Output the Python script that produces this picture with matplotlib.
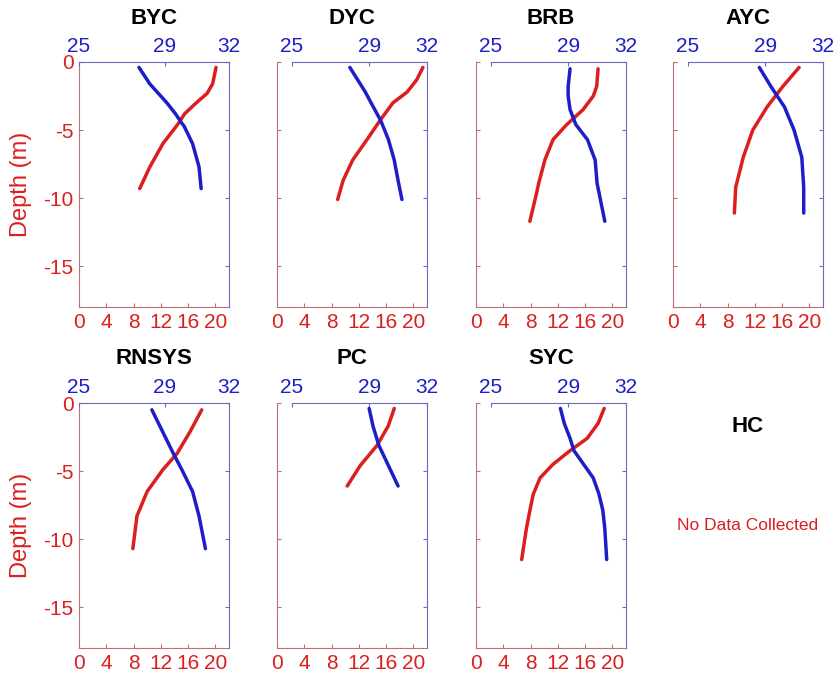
import matplotlib.pyplot as plt

plt.rcParams["font.family"] = ["Liberation Sans", "DejaVu Sans"]
plt.rcParams["axes.unicode_minus"] = False

# temperature (red, bottom axis) and salinity (blue, top axis) profiles
byc_depth = [-0.4, -1.6, -2.3, -3.0, -3.8, -4.5, -4.7, -6.0, -7.7, -9.3]
byc_temp = [20.1, 19.6, 18.8, 17.2, 15.5, 14.6, 14.3, 12.3, 10.4, 8.9]
byc_sal = [27.8, 28.3, 28.7, 29.1, 29.5, 29.8, 29.9, 30.3, 30.6, 30.7]

dyc_depth = [-0.4, -1.3, -2.2, -3.0, -4.3, -5.7, -7.2, -8.7, -10.1]
dyc_temp = [21.4, 20.5, 19.1, 17.0, 15.1, 13.2, 11.1, 9.7, 8.9]
dyc_sal = [28.0, 28.4, 28.8, 29.1, 29.6, 30.0, 30.3, 30.5, 30.7]

brb_depth = [-0.5, -1.8, -2.5, -3.5, -4.6, -5.7, -7.2, -8.9, -9.6, -11.7]
brb_temp = [17.9, 17.7, 17.2, 15.7, 13.3, 11.3, 10.1, 9.2, 8.9, 7.9]
brb_sal = [29.1, 29.0, 29.0, 29.1, 29.4, 30.0, 30.4, 30.5, 30.6, 30.9]

ayc_depth = [-0.4, -1.8, -3.3, -5.0, -7.0, -9.2, -11.1]
ayc_temp = [18.5, 16.1, 13.8, 11.7, 10.3, 9.2, 9.0]
ayc_sal = [28.7, 29.3, 30.0, 30.5, 30.9, 31.0, 31.0]

rnsys_depth = [-0.5, -2.1, -3.7, -4.9, -6.5, -8.3, -10.7]
rnsys_temp = [18.0, 16.3, 14.4, 12.3, 10.0, 8.5, 7.9]
rnsys_sal = [28.4, 28.9, 29.4, 29.8, 30.3, 30.6, 30.9]

pc_depth = [-0.4, -1.7, -3.1, -4.6, -6.1]
pc_temp = [17.2, 16.3, 14.7, 12.2, 10.3]
pc_sal = [29.0, 29.2, 29.5, 30.0, 30.5]

syc_depth = [-0.4, -1.5, -2.6, -3.5, -4.5, -5.5, -6.7, -7.9, -9.2, -11.5]
syc_temp = [18.8, 17.9, 16.3, 13.8, 11.3, 9.4, 8.4, 7.9, 7.4, 6.7]
syc_sal = [28.6, 28.8, 29.1, 29.3, 29.8, 30.3, 30.6, 30.8, 30.9, 31.0]

sites = ["BYC", "DYC", "BRB", "AYC", "RNSYS", "PC", "SYC"]
depths = [byc_depth, dyc_depth, brb_depth, ayc_depth, rnsys_depth, pc_depth, syc_depth]
temps = [byc_temp, dyc_temp, brb_temp, ayc_temp, rnsys_temp, pc_temp, syc_temp]
sals = [byc_sal, dyc_sal, brb_sal, ayc_sal, rnsys_sal, pc_sal, syc_sal]
empty_site = "HC"

temp_ticks = [0, 4, 8, 12, 16, 20]
sal_ticks = [25, 29, 32]
depth_ticks = [0, -5, -10, -15]

RED = "#dc1e1e"
BLUE = "#1e1ec8"
RED_SPINE = "#c07070"
BLUE_SPINE = "#6a6ac0"

W, H = 837, 679
fig = plt.figure(figsize=(W / 100, H / 100), dpi=100)

col_left = [79, 277, 476, 673]
row_top = [62, 403]
pw, ph = 150, 245


def frac(x, y, w, h):
    return [x / W, 1 - (y + h) / H, w / W, h / H]


for i, site in enumerate(sites):
    row, col = divmod(i, 4)
    x0, y0 = col_left[col], row_top[row]

    ax = fig.add_axes(frac(x0, y0, pw, ph))
    ax.plot(temps[i], depths[i], color=RED, lw=2.5, solid_capstyle="round")
    ax.set_xlim(0, 22)
    ax.set_ylim(-18, 0)
    for side in ("top", "right"):
        ax.spines[side].set_visible(False)
    for side in ("left", "bottom"):
        ax.spines[side].set_color(RED_SPINE)
    ax.set_xticks(temp_ticks)
    ax.set_yticks(depth_ticks)
    ax.tick_params(direction="in", length=3, color=RED_SPINE,
                   labelcolor=RED, labelsize=15, pad=4)
    if col == 0:
        ax.set_ylabel("Depth (m)", color=RED, fontsize=17)
        ax.yaxis.set_label_coords(-0.31, 0.5)
    else:
        ax.set_yticklabels([])

    off = 0 if col == 0 else 15
    ax2 = fig.add_axes(frac(x0 + off, y0, pw - off, ph))
    ax2.patch.set_visible(False)
    ax2.plot(sals[i], depths[i], color=BLUE, lw=2.5, solid_capstyle="round")
    ax2.set_xlim(25, 32)
    ax2.set_ylim(-18, 0)
    for side in ("left", "bottom"):
        ax2.spines[side].set_visible(False)
    for side in ("top", "right"):
        ax2.spines[side].set_color(BLUE_SPINE)
    ax2.xaxis.tick_top()
    ax2.yaxis.tick_right()
    ax2.set_xticks(sal_ticks)
    ax2.set_yticks(depth_ticks)
    ax2.set_yticklabels([])
    ax2.tick_params(direction="in", length=3, color=BLUE_SPINE,
                    labelcolor=BLUE, labelsize=15, pad=4)

    fig.text((x0 + pw / 2) / W, 1 - (y0 - 44) / H, site,
             fontsize=16, fontweight="bold", ha="center", va="center")

hx = (col_left[3] + pw / 2) / W
fig.text(hx, 1 - 426 / H, empty_site, fontsize=16, fontweight="bold",
         ha="center", va="center")
fig.text(hx, 1 - 525 / H, "No Data Collected", color=RED, fontsize=12.5,
         ha="center", va="center")

fig.savefig("out.png", dpi=100)
